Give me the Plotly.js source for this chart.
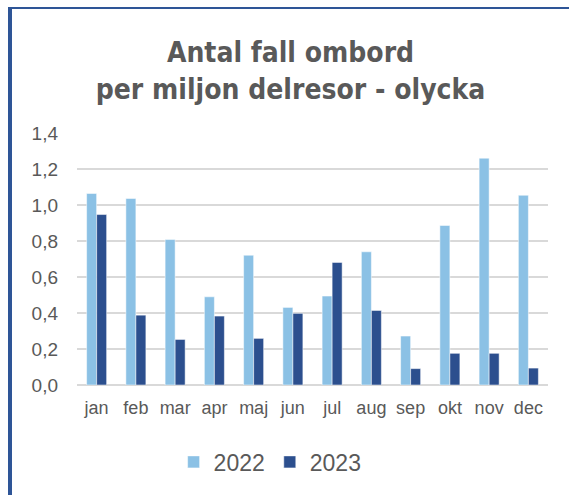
<!DOCTYPE html>
<html>
<head>
<meta charset="utf-8">
<script src="https://cdn.plot.ly/plotly-3.0.1.min.js"></script>
<style>
  body { margin: 0; background: #fff; }
  #chart {
    position: absolute; left: 8px; top: 7px;
    width: 557px; height: 486px;
    border-left: 4px solid #2E5597;
    border-top: 2px solid #2E5597;
  }
</style>
</head>
<body>
<div id="chart"></div>
<script>
let months = ['jan', 'feb', 'mar', 'apr', 'maj', 'jun', 'jul', 'aug', 'sep', 'okt', 'nov', 'dec'];
let vals2022 = [1.064, 1.036, 0.808, 0.490, 0.721, 0.431, 0.494, 0.740, 0.272, 0.886, 1.260, 1.054];
let vals2023 = [0.947, 0.388, 0.253, 0.383, 0.259, 0.398, 0.681, 0.414, 0.091, 0.176, 0.176, 0.094];
let yTicks = [0, 0.2, 0.4, 0.6, 0.8, 1.0, 1.2, 1.4];

let graph = document.getElementById('chart');

let data = [{
    type: 'bar',
    name: '2022',
    x: months,
    y: vals2022,
    marker: {color: '#8BC1E5', line: {color: '#ffffff', width: 0.5}}
}, {
    type: 'bar',
    name: '2023',
    x: months,
    y: vals2023,
    marker: {color: '#2C4F8E', line: {color: '#ffffff', width: 0.5}}
}];

let layout = {
    width: 557,
    height: 486,
    margin: {l: 65, r: 21, t: 124, b: 110},
    paper_bgcolor: '#ffffff',
    plot_bgcolor: '#ffffff',
    separators: ', ',
    barmode: 'group',
    bargap: 0.49,
    bargroupgap: 0,
    font: {family: 'Liberation Sans, Arial, sans-serif', color: '#595959', size: 18},
    title: {
        text: 'Antal fall ombord<br>per miljon delresor - olycka',
        font: {family: 'DejaVu Sans Condensed, Liberation Sans, sans-serif', size: 28, color: '#595959', weight: 'bold'},
        x: 0.5,
        xanchor: 'center',
        y: 0.89,
        yanchor: 'top'
    },
    xaxis: {
        tickfont: {size: 18},
        showline: false,
        ticks: '',
        ticklabelstandoff: 10
    },
    yaxis: {
        range: [0, 1.4],
        tickvals: yTicks,
        tickformat: '.1f',
        tickfont: {size: 19},
        gridcolor: '#D9D9D9',
        gridwidth: 1.5,
        zeroline: true,
        zerolinecolor: '#D9D9D9',
        zerolinewidth: 1.5,
        showline: false,
        ticks: '',
        ticklabelstandoff: 18
    },
    legend: {
        orientation: 'h',
        x: 0.41,
        xanchor: 'center',
        y: -0.22,
        yanchor: 'top',
        font: {size: 23, color: '#595959'},
        itemwidth: 30
    },
    showlegend: true
};

Plotly.newPlot(graph, data, layout, {displayModeBar: false});
</script>
</body>
</html>
